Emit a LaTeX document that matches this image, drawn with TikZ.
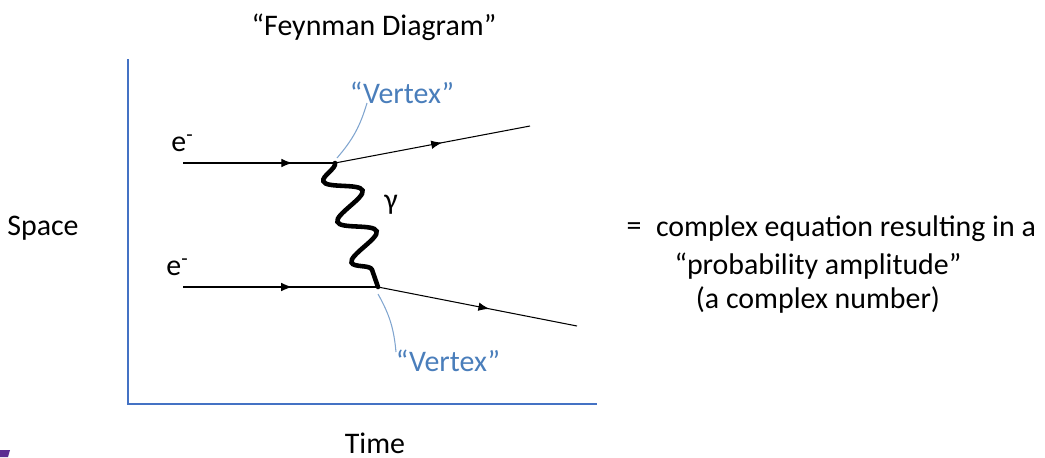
\documentclass[tikz,border=0pt]{standalone}
\usepackage{fontspec}
\setmainfont{Carlito}
\usetikzlibrary{positioning,decorations.pathmorphing,decorations.markings,arrows.meta}
\definecolor{axisblue}{HTML}{4472C4}
\definecolor{tagblue}{HTML}{4A7EBB}
\definecolor{slidepurple}{HTML}{5C2D91}

\begin{document}
\begin{tikzpicture}[x=0.01cm,y=-0.01cm,
  every node/.style={font=\fontsize{8.5}{10}\selectfont,inner sep=0pt},
  axis/.style={draw=axisblue,line width=0.6pt},
  fermion/.style={draw,line width=0.3pt,postaction={decorate},
    decoration={markings,mark=at position #1 with {\arrow{Latex[length=1.1mm,width=0.85mm]}}}},
  photon/.style={draw,line width=1.3pt,line cap=round,decorate,
    decoration={snake,segment length=0.43cm,amplitude=0.17cm,mirror}},
  tag/.style={text=tagblue},
  pointer/.style={draw=tagblue!70,line width=0.3pt}]
\useasboundingbox (0,0) rectangle (1045,457);
% axes
\coordinate (ytop) at (128,59);
\coordinate (origin) at (128,404);
\coordinate (xend) at (597,404);
\draw[axis] (ytop) -- (origin) -- (xend);
\node (space) at (43,228) {Space};
\node (time) at (375,443) {Time};
\node (title) at (374,27) {“Feynman Diagram”};
% electron lines
\coordinate (e1in) at (183,163);
\coordinate (vtop) at (335,163);
\coordinate (e1out) at (530,126);
\coordinate (e2in) at (183,287);
\coordinate (vbot) at (378,287);
\coordinate (e2out) at (577,326);
\draw[fermion=0.72] (e1in) -- (vtop);
\draw[fermion=0.55] (vtop) -- (e1out);
\draw[fermion=0.56] (e2in) -- (vbot);
\draw[fermion=0.56] (vbot) -- (e2out);
\node (e1) at (183,143) {e\textsuperscript{-}};
\node (e2) at (178,267) {e\textsuperscript{-}};
% photon
\draw[photon] (vtop) -- (vbot);
\node (gamma) at (391,205) {γ};
% vertex tags
\node[tag] (tagtop) at (402,93) {“Vertex”};
\node[tag] (tagbot) at (448,361) {“Vertex”};
\coordinate (tagtopend) at (367,103);
\coordinate (tagbotend) at (396,352);
\draw[pointer] (vtop) ++(2,-5) coordinate (vtopfoot) to[bend right=12] (tagtopend);
\draw[pointer] (vbot) ++(0,7) coordinate (vbotfoot) to[bend left=12] (tagbotend);
% result
\node (eqsign) at (634,229) {=};
\node (eq1) at (846,229) {complex equation resulting in a};
\node (eq2) at (818,266) {“probability amplitude”};
\node (eq3) at (818,300) {(a complex number)};
% slide corner
\fill[slidepurple] (0,450) -- (10,450) -- (8,457) -- (0,457) -- cycle;
\end{tikzpicture}
\end{document}
